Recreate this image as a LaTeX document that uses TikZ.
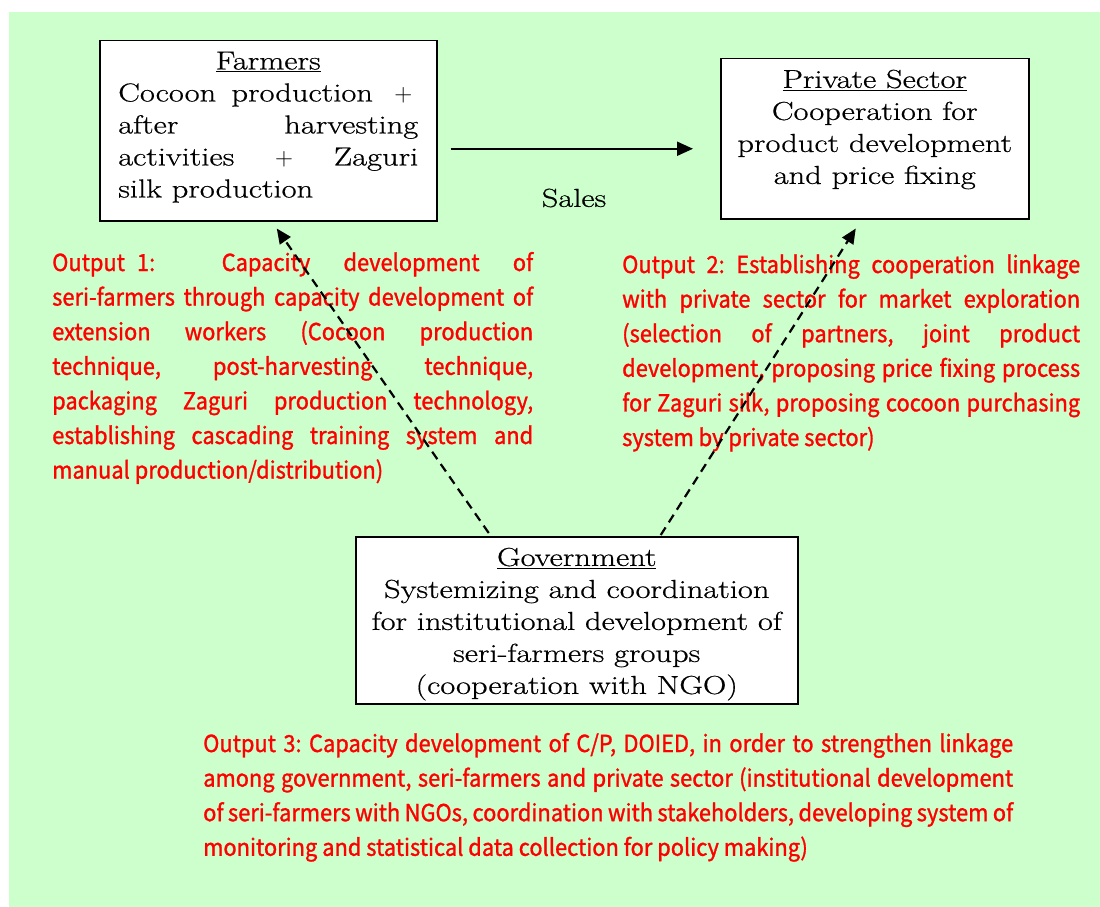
\documentclass[tikz,border=0pt]{standalone}
\usepackage{fontspec}
\setmainfont{Latin Modern Roman}[FakeStretch=1.25, FakeBold=0.6]
\newfontfamily\gothic{Noto Sans CJK JP}[FakeStretch=0.93, FakeBold=1.2]
\usetikzlibrary{arrows.meta}

\definecolor{panelgreen}{RGB}{204,255,204}
\newcommand\plusbox{\makebox[30pt]{$+$}}
\newcommand\jline[1]{\makebox[\linewidth][s]{#1}}

\tikzset{
  actor/.style={draw, line width=1.5pt, fill=white, anchor=north west,
    inner xsep=18pt, inner ysep=11pt,
    font=\fontsize{26}{32}\selectfont},
  outtext/.style={anchor=base west, inner sep=0pt, text=red,
    font=\gothic\fontsize{23.5}{34.6}\selectfont\frenchspacing},
  sales arrow/.style={line width=2pt, -{Triangle[length=16pt,width=14pt]}},
  output arrow/.style={line width=2.2pt, dash pattern=on 9pt off 6pt,
    -{Triangle[length=15pt,width=13pt]}}
}

\begin{document}
\begin{tikzpicture}[x=1pt,y=-1pt]
\useasboundingbox (0,0) rectangle (1100,907);
\fill[panelgreen] (9,12) rectangle (1100,907);

% the three actors
\node[actor, inner xsep=18.5pt] (farm) at (99,40)
  {\parbox[c][158pt][t]{300pt}{\centering\underline{Farmers}\\
   \jline{Cocoon production \plusbox}\\
   \jline{after harvesting}\\
   \jline{activities \plusbox{} Zaguri}\\
   \makebox[\linewidth][l]{silk production}}};

\node[actor, inner xsep=6pt] (priv) at (720,58)
  {\parbox[c][138pt][t]{296pt}{\centering\underline{Private Sector}\\
   Cooperation for\\ product development\\ and price fixing}};

\node[actor, inner xsep=10pt] (gov) at (355,536)
  {\parbox[c][145pt][t]{422pt}{\centering\underline{Government}\\
   Systemizing and coordination\\
   for institutional development of\\
   seri-farmers groups\\
   (cooperation with NGO)}};

\node[font=\fontsize{26}{32}\selectfont] (sales) at (574,198) {Sales};

% outputs
\node[outtext] (out1) at (52,271)
  {\parbox[t]{481pt}{%
   \jline{Output\hspace{12pt}1:\ \ Capacity development of}\\
   \jline{seri-farmers through capacity development of}\\
   \jline{extension workers (Cocoon production}\\
   \jline{technique, post-harvesting technique,}\\
   \jline{packaging Zaguri production technology,}\\
   \jline{establishing cascading training system and}\\
   manual production/distribution)}};

\node[outtext] (out2) at (622,273)
  {\parbox[t]{458pt}{%
   \jline{Output 2: Establishing cooperation linkage}\\
   \jline{with private sector for market exploration}\\
   \jline{(selection of partners, joint product}\\
   \jline{development, proposing price fixing process}\\
   \jline{for Zaguri silk, proposing cocoon purchasing}\\
   system by private sector)}};

\node[outtext] (out3) at (203,752)
  {\parbox[t]{810pt}{%
   \jline{Output 3: Capacity development of C/P, DOIED, in order to strengthen linkage}\\
   \jline{among government, seri-farmers and private sector (institutional development}\\
   \jline{of seri-farmers with NGOs, coordination with stakeholders, developing system of}\\
   monitoring and statistical data collection for policy making)}};

% connectors
\draw[sales arrow] ([shift={(13pt,-18pt)}]farm.east) -- ([shift={(-27pt,-10pt)}]priv.west);
\draw[output arrow] ([shift={(-88pt,3pt)}]gov.north) -- ([shift={(8.5pt,-7pt)}]farm.south);
\draw[output arrow] ([shift={(84pt,1pt)}]gov.north) -- ([shift={(-19pt,-9pt)}]priv.south);
\end{tikzpicture}
\end{document}
